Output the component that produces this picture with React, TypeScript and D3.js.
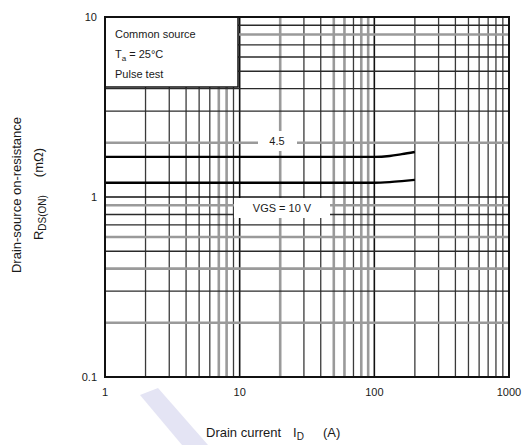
import React from "react";
import * as d3 from "d3";

const xDomain = [1, 1000];
const yDomain = [0.1, 10];
const xTickLabels = ["1", "10", "100", "1000"];
const xTickValues = [1, 10, 100, 1000];
const yTickLabels = ["0.1", "1", "10"];
const yTickValues = [0.1, 1, 10];
const xGrayLines = [7, 8, 20, 50, 60, 80, 90];
const yGrayLines = [0.2, 0.4, 0.6, 0.9, 2, 8];

const curve45Id = [1, 10, 100, 130, 160, 200];
const curve45R = [1.67, 1.67, 1.67, 1.69, 1.73, 1.78];
const curve10Id = [1, 10, 100, 130, 160, 200];
const curve10R = [1.2, 1.2, 1.2, 1.21, 1.225, 1.245];

const W = 526, H = 445;
const L = 105, R = 509, T = 17, B = 377;

function logLines(lo: number, hi: number): number[] {
  const out: number[] = [];
  for (let d = lo; d < hi; d *= 10) {
    for (let k = 1; k <= 9; k++) out.push(d * k);
  }
  out.push(hi);
  return out;
}

export default function App() {
  const x = d3.scaleLog().domain(xDomain).range([L, R]);
  const y = d3.scaleLog().domain(yDomain).range([B, T]);
  const line = d3
    .line<[number, number]>()
    .x((d) => x(d[0]))
    .y((d) => y(d[1]))
    .curve(d3.curveMonotoneX);

  const xl = logLines(1, 1000);
  const yl = logLines(0.1, 10);
  const isMajor = (v: number) => Math.abs(Math.log10(v) - Math.round(Math.log10(v))) < 1e-9;
  const isGray = (arr: number[], v: number) => arr.some((g) => Math.abs(g - v) / g < 1e-6);

  const font = "Liberation Sans, Arial, sans-serif";
  const c45 = curve45Id.map((d, i) => [d, curve45R[i]] as [number, number]);
  const c10 = curve10Id.map((d, i) => [d, curve10R[i]] as [number, number]);

  return (
    <svg width={W} height={H} style={{ position: "absolute", left: 0, top: 0, background: "#fff" }}>
      <rect x={0} y={0} width={W} height={H} fill="#fff" />
      {/* watermark stroke */}
      <polygon points="140,395 158,388 208,445 182,445" fill="#e4e4f4" />
      {/* grid */}
      {xl.map((v, i) => {
        const g = isGray(xGrayLines, v);
        return (
          <line key={"x" + i} x1={x(v)} x2={x(v)} y1={T} y2={B}
            stroke={isMajor(v) ? "#111" : g ? "#9a9a9a" : "#3a3a3a"}
            strokeWidth={isMajor(v) ? 1.6 : g ? 2.6 : 1.3} />
        );
      })}
      {yl.map((v, i) => {
        const g = isGray(yGrayLines, v);
        return (
          <line key={"y" + i} x1={L} x2={R} y1={y(v)} y2={y(v)}
            stroke={isMajor(v) ? "#111" : g ? "#9a9a9a" : "#2a2a2a"}
            strokeWidth={isMajor(v) ? 1.6 : g ? 2.6 : 1.4} />
        );
      })}
      {/* legend box */}
      <rect x={L} y={T} width={133} height={70} fill="#fff" stroke="#111" strokeWidth={1.5} />
      <g fontFamily={font} fontSize={11} fill="#1a1a1a">
        <text x={115} y={38}>Common source</text>
        <text x={115} y={58}>
          T<tspan fontSize={8} dy={3}>a</tspan><tspan dy={-3}> = 25°C</tspan>
        </text>
        <text x={115} y={78}>Pulse test</text>
      </g>
      {/* label backgrounds */}
      <rect x={258} y={131} width={39} height={20} fill="#fff" />
      <rect x={234} y={198} width={96} height={20} fill="#fff" />
      {/* curves */}
      <path d={line(c45) || ""} fill="none" stroke="#000" strokeWidth={2.4} />
      <path d={line(c10) || ""} fill="none" stroke="#000" strokeWidth={2.4} />
      <g fontFamily={font} fontSize={11} fill="#1a1a1a" textAnchor="middle">
        <text x={277} y={145}>4.5</text>
        <text x={282} y={212}>VGS = 10 V</text>
      </g>
      {/* frame */}
      <rect x={L} y={T} width={R - L} height={B - T} fill="none" stroke="#111" strokeWidth={2} />
      {/* tick labels */}
      <g fontFamily={font} fontSize={11} fill="#1a1a1a">
        {xTickValues.map((v, i) => (
          <text key={"xt" + i} x={x(v)} y={396} textAnchor="middle">{xTickLabels[i]}</text>
        ))}
        {yTickValues.map((v, i) => (
          <text key={"yt" + i} x={97} y={y(v) + 4} textAnchor="end">{yTickLabels[i]}</text>
        ))}
      </g>
      {/* axis titles */}
      <g fontFamily={font} fontSize={13} fill="#1a1a1a">
        <text x={206} y={437}>Drain current</text>
        <text x={293} y={437}>
          I<tspan fontSize={10} dy={3}>D</tspan>
        </text>
        <text x={323} y={437}>(A)</text>
        <text transform="translate(21,195) rotate(-90)" textAnchor="middle">Drain-source on-resistance</text>
        <text transform="translate(43,194) rotate(-90)" textAnchor="middle">
          R<tspan fontSize={10} dy={3}>DS(ON)</tspan><tspan dy={-3} dx={18}>(mΩ)</tspan>
        </text>
      </g>
    </svg>
  );
}
